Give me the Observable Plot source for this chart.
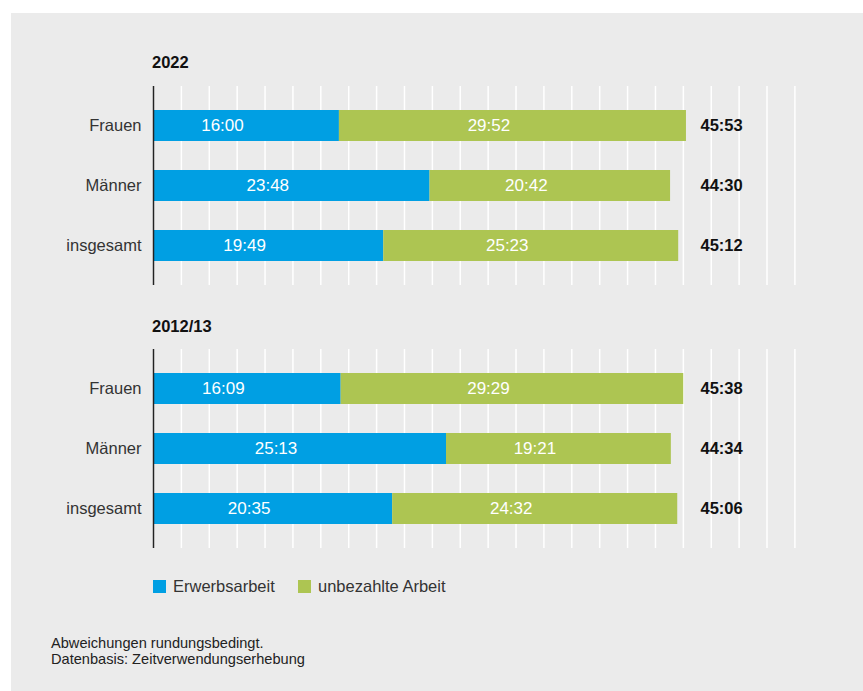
<!DOCTYPE html>
<html>
<head>
<meta charset="utf-8">
<script src="https://cdn.jsdelivr.net/npm/d3@7"></script>
<script src="https://cdn.jsdelivr.net/npm/@observablehq/plot@0.6"></script>
<style>
  html, body { margin: 0; padding: 0; background: #ffffff; }
  #page { position: relative; width: 863px; height: 691px; background: #ffffff; overflow: hidden;
          font-family: "Liberation Sans", Arial, Helvetica, sans-serif; }
  #panel { position: absolute; left: 11px; top: 13px; width: 852px; height: 678px; background: #ebebeb; }
  .title { font-weight: bold; font-size: 16.5px; color: #111; line-height: 1; }
  .legend { font-size: 16.5px; color: #333; line-height: 1; }
  .sw { position: absolute; width: 13px; height: 13px; }
  .caption { font-size: 14.6px; color: #222; line-height: 16px; }
</style>
</head>
<body>
<div id="page">
  <div id="panel"></div>
</div>
<script>
// ---- data ----
const categories = ["Frauen", "Männer", "insgesamt"];
const years = ["2022", "2012/13"];
const seriesNames = ["Erwerbsarbeit", "unbezahlte Arbeit"];
const colors = ["#009fe3", "#adc552"];
const erwerb2022 = ["16:00", "23:48", "19:49"];
const unbezahlt2022 = ["29:52", "20:42", "25:23"];
const total2022 = ["45:53", "44:30", "45:12"];
const erwerb2012 = ["16:09", "25:13", "20:35"];
const unbezahlt2012 = ["29:29", "19:21", "24:32"];
const total2012 = ["45:38", "44:34", "45:06"];
const captionLines = ["Abweichungen rundungsbedingt.", "Datenbasis: Zeitverwendungserhebung"];

const toHours = s => { const [h, m] = s.split(":").map(Number); return h + m / 60; };
const xMax = 55.2;
const gridStep = 2.4;
const gridTicks = d3.range(0, xMax + 0.001, gridStep);
const font = '"Liberation Sans", Arial, Helvetica, sans-serif';

function rows(erw, unb) {
  const out = [];
  categories.forEach((c, i) => {
    out.push({cat: c, type: seriesNames[0], hours: toHours(erw[i]), label: erw[i]});
    out.push({cat: c, type: seriesNames[1], hours: toHours(unb[i]), label: unb[i]});
  });
  return out;
}

function chart(erw, unb, tot) {
  const data = rows(erw, unb);
  const totals = categories.map((c, i) => ({cat: c, label: tot[i]}));
  return Plot.plot({
    width: 863, height: 199,
    marginLeft: 153, marginRight: 68.6, marginTop: 0, marginBottom: 0,
    style: {background: "transparent", fontFamily: font, overflow: "visible"},
    x: {domain: [0, xMax], axis: null},
    y: {domain: categories, paddingInner: 0.4876, paddingOuter: 0.388, label: null},
    color: {domain: seriesNames, range: colors},
    marks: [
      Plot.ruleX(gridTicks, {stroke: "#ffffff", strokeWidth: 1.5}),
      Plot.barX(data, Plot.stackX({x: "hours", y: "cat", fill: "type", order: seriesNames})),
      Plot.text(data, Plot.stackX({x: "hours", y: "cat", z: "type", order: seriesNames, text: "label",
        fill: "#ffffff", fontSize: 17, dx: -24})),
      Plot.text(totals, {y: "cat", text: "label", frameAnchor: "left", dx: 547, textAnchor: "start",
        fontWeight: "bold", fontSize: 16.5, fill: "#111"}),
      Plot.ruleX([0], {stroke: "#222", strokeWidth: 1.5}),
      Plot.axisY({tickSize: 0, tickPadding: 12, fontSize: 16.5, fill: "#333", label: null})
    ]
  });
}

const page = document.getElementById("page");
function place(el, left, top) {
  el.style.position = "absolute"; el.style.left = left + "px"; el.style.top = top + "px";
  page.appendChild(el);
}
function textDiv(cls, txt, left, top) {
  const d = document.createElement("div");
  d.className = cls; d.textContent = txt; d.style.whiteSpace = "nowrap";
  place(d, left, top);
  return d;
}

textDiv("title", years[0], 152, 54);
place(chart(erwerb2022, unbezahlt2022, total2022), 0, 86);
textDiv("title", years[1], 152, 318);
place(chart(erwerb2012, unbezahlt2012, total2012), 0, 349);

// legend
const legendX = [153, 298];
seriesNames.forEach((n, i) => {
  const sw = document.createElement("div");
  sw.className = "sw"; sw.style.background = colors[i];
  place(sw, legendX[i], 580);
  textDiv("legend", n, legendX[i] + 20, 578);
});

// caption
const cap = document.createElement("div");
cap.className = "caption";
cap.innerHTML = captionLines.join("<br>");
place(cap, 51, 635);
</script>
</body>
</html>
